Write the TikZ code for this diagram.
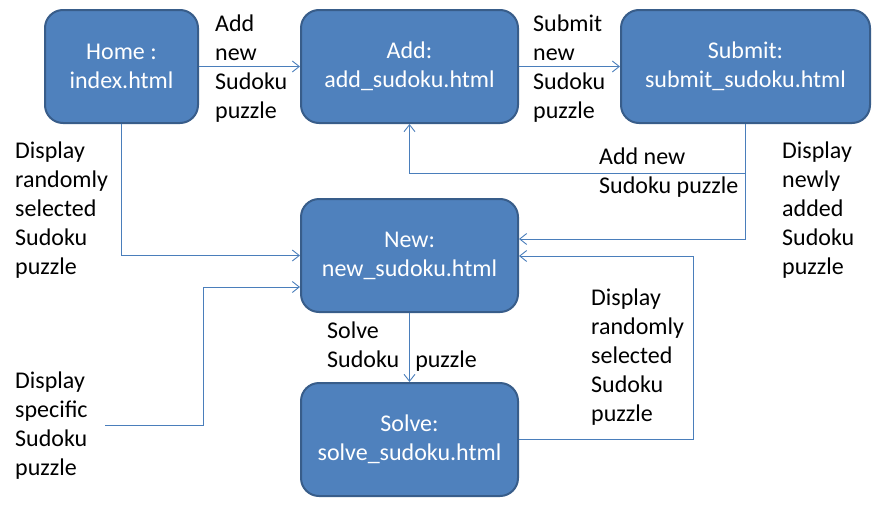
\documentclass[tikz,border=0pt]{standalone}
\usepackage{fontspec}
\setmainfont{Carlito}
\usetikzlibrary{arrows.meta}
\definecolor{boxfill}{HTML}{4F81BD}
\definecolor{boxline}{HTML}{385D8A}
\definecolor{conn}{HTML}{4A7EBB}
\begin{document}
\begin{tikzpicture}[x=1pt,y=-1pt,
  page/.style={draw=boxline,line width=2pt,fill=boxfill,rounded corners=18pt,
    minimum height=113pt,text=white,align=center,inner sep=2pt,
    font=\fontsize{24}{29}\selectfont},
  lbl/.style={anchor=north west,align=left,inner sep=0pt,text=black,
    font=\fontsize{24}{29}\selectfont},
  arr/.style={draw=conn,line width=0.9pt,-{Straight Barb[length=7pt,width=11pt]}}]
\useasboundingbox (0,0) rectangle (874,506);
% boxes
\node[page,minimum width=153pt] (home) at (121.5,66.5) {Home :\\index.html};
\node[page,minimum width=217pt] (add) at (409.5,66.5) {Add:\\add\_sudoku.html};
\node[page,minimum width=249pt] (submit) at (745.5,66.5) {Submit:\\submit\_sudoku.html};
\node[page,minimum width=217pt] (new) at (409.5,255.5) {New:\\new\_sudoku.html};
\node[page,minimum width=217pt] (solve) at (409.5,439.5) {Solve:\\solve\_sudoku.html};
% helper coordinates
\coordinate (j1) at (745.5,173);
\coordinate (j2) at (745.5,239);
\coordinate (j3) at (693.5,256);
\coordinate (s0) at (105,425);
\coordinate (s1) at (203,287);
% connectors
\draw[arr] (home.east) -- (add.west);
\draw[arr] (add.east) -- (submit.west);
\draw[arr] (submit.south) -- (j1) -| (add.south);
\draw[arr] (submit.south) -- (j2) -- (new.east |- j2);
\draw[arr] (home.south) |- (new.west);
\draw[arr] (solve.east) -| (j3) -- (new.east |- j3);
\draw[arr] (s0) -| (s1) -- (new.west |- s1);
\draw[arr] (new.south) -- (solve.north);
% labels
\node[lbl] (l1) at (215,15) {Add\\new\\Sudoku\\puzzle};
\node[lbl] (l2) at (533,15) {Submit\\new\\Sudoku\\puzzle};
\node[lbl] (l3) at (599,148) {Add new\\Sudoku puzzle};
\node[lbl] (l4) at (15,142) {Display\\randomly\\selected\\Sudoku\\puzzle};
\node[lbl] (l5) at (782,142) {Display\\newly\\added\\Sudoku\\puzzle};
\node[lbl] (l6) at (591,289) {Display\\randomly\\selected\\Sudoku\\puzzle};
\node[lbl] (l7) at (15,372) {Display\\specific\\Sudoku\\puzzle};
\node[lbl] (l8) at (327,322) {Solve\\Sudoku\hspace*{16pt}puzzle};
\end{tikzpicture}
\end{document}
